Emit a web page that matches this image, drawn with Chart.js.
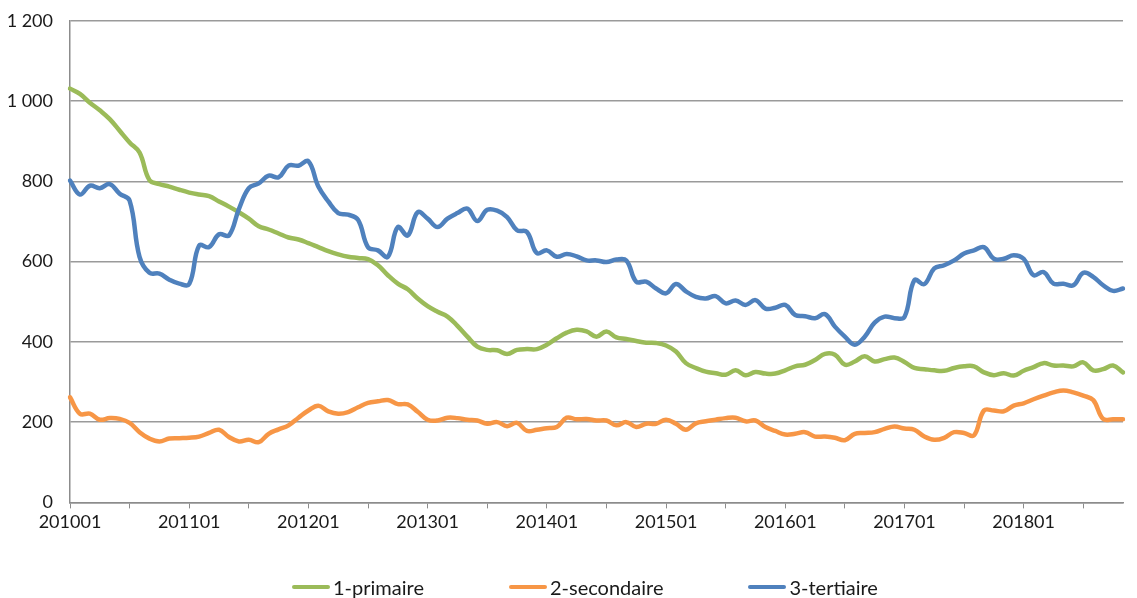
<!DOCTYPE html>
<html>
<head>
<meta charset="utf-8">
<script src="https://cdn.jsdelivr.net/npm/chart.js@4"></script>
<style>
html,body{margin:0;padding:0;background:#fff;}
#wrap{width:1137px;height:598px;position:relative;overflow:hidden;}
#cbox{position:absolute;left:0;top:-7px;width:1137px;height:605px;}
#legend{position:absolute;left:292px;top:574px;height:26px;display:flex;align-items:center;gap:85px;
  font-family:Lato,"Open Sans","Liberation Sans",sans-serif;font-size:20px;color:#1a1a1a;white-space:nowrap;}
#legend .item{display:flex;align-items:center;}
#legend .sw{width:38px;height:4px;border-radius:2px;margin-right:3px;}
</style>
</head>
<body>
<div id="wrap"><div id="cbox"><canvas id="c"></canvas></div><div id="legend"></div></div>
<script>
const years = [2010,2011,2012,2013,2014,2015,2016,2017,2018];
const lastMonth2018 = 11;
const categories = [];
years.forEach(y => {
  const maxM = (y === 2018) ? lastMonth2018 : 12;
  for (let m = 1; m <= maxM; m++) categories.push(String(y) + String(m).padStart(2,'0'));
});

const primaire = [1031,1018,996,977,955,926,897,872,803,793,787,779,772,767,763,750,737,723,707,688,680,670,660,655,646,636,626,618,612,609,606,591,566,545,531,508,489,475,463,440,413,388,380,379,370,380,382,382,393,409,423,430,426,413,426,411,407,402,398,397,391,376,347,335,326,322,318,329,317,325,321,321,329,339,343,355,370,368,343,351,364,351,357,361,350,335,332,329,328,335,339,339,324,317,322,316,328,337,347,341,341,339,349,329,332,341,324];
const secondaire = [262,221,221,206,210,208,198,175,159,152,159,160,161,164,173,181,163,152,156,150,171,182,192,211,229,241,227,221,225,237,248,252,255,245,244,226,206,204,211,210,206,204,196,200,190,198,178,181,185,188,211,207,208,204,204,192,200,188,196,196,206,196,181,197,202,206,210,211,202,204,188,178,169,171,175,164,164,161,155,171,173,175,183,189,184,181,164,156,161,175,173,167,229,229,227,241,247,257,266,274,279,274,266,255,208,207,207];
const tertiaire = [802,767,789,783,793,769,752,612,572,570,555,545,544,640,636,668,665,731,783,795,814,810,839,839,850,787,750,721,717,704,636,628,612,686,665,723,707,686,707,721,732,701,729,727,711,678,674,621,628,612,619,613,603,603,599,605,603,550,550,533,521,544,526,512,508,514,496,503,492,504,483,485,492,467,464,459,469,438,413,393,413,448,463,459,462,554,544,583,591,603,620,628,636,607,607,616,607,566,574,545,545,541,572,562,541,527,533];

const seriesNames = ['1-primaire','2-secondaire','3-tertiaire'];
const seriesColors = ['#9BBB59','#F79646','#4F81BD'];
const yTicks = [0,200,400,600,800,1000,1200];

function fmt(v){ return String(v).replace(/\B(?=(\d{3})+(?!\d))/g,' '); }

const FONT = 'Lato, "Open Sans", "Liberation Sans", sans-serif';

const mk = (i, data, order) => ({
  label: seriesNames[i], data: data,
  borderColor: seriesColors[i], backgroundColor: seriesColors[i],
  borderWidth: 4.5, pointRadius: 0, tension: 0.4, fill: false, order: order,
  borderCapStyle: 'round', borderJoinStyle: 'round'
});

// HTML legend (real text)
const lg = document.getElementById('legend');
seriesNames.forEach((n, i) => {
  const it = document.createElement('div'); it.className = 'item';
  const sw = document.createElement('div'); sw.className = 'sw'; sw.style.background = seriesColors[i];
  const tx = document.createElement('span'); tx.textContent = n;
  it.appendChild(sw); it.appendChild(tx); lg.appendChild(it);
});

new Chart(document.getElementById('c'), {
  type: 'line',
  data: {
    labels: categories,
    datasets: [mk(0, primaire, 3), mk(1, secondaire, 2), mk(2, tertiaire, 1)]
  },
  options: {
    responsive: true, maintainAspectRatio: false, animation: false,
    layout: { padding: { left: 0, right: 14, top: 3, bottom: 62 } },
    plugins: {
      tooltip: { enabled: false },
      legend: { display: false }
    },
    scales: {
      x: {
        ticks: {
          autoSkip: false, maxRotation: 0, minRotation: 0, padding: 3,
          color: '#1a1a1a', font: { family: FONT, size: 18 },
          callback: function(v, i){ return (i % 12 === 0) ? categories[i] : ''; }
        },
        grid: {
          drawOnChartArea: false, drawTicks: true, tickLength: 6,
          color: (ctx) => (ctx.index % 6 === 0 ? '#8c8c8c' : 'rgba(0,0,0,0)')
        },
        border: { color: '#8c8c8c', width: 1.5 }
      },
      y: {
        min: 0, max: 1200,
        afterBuildTicks: (axis) => { axis.ticks = yTicks.map(v => ({ value: v })); },
        afterFit: (axis) => { axis.width = 70; },
        ticks: {
          padding: 17, color: '#1a1a1a', font: { family: FONT, size: 18 },
          callback: (v) => fmt(v)
        },
        grid: { color: '#9a9a9a', lineWidth: 1.5, drawTicks: false },
        border: { color: '#8c8c8c', width: 1.5 }
      }
    }
  }
});
</script>
</body>
</html>
